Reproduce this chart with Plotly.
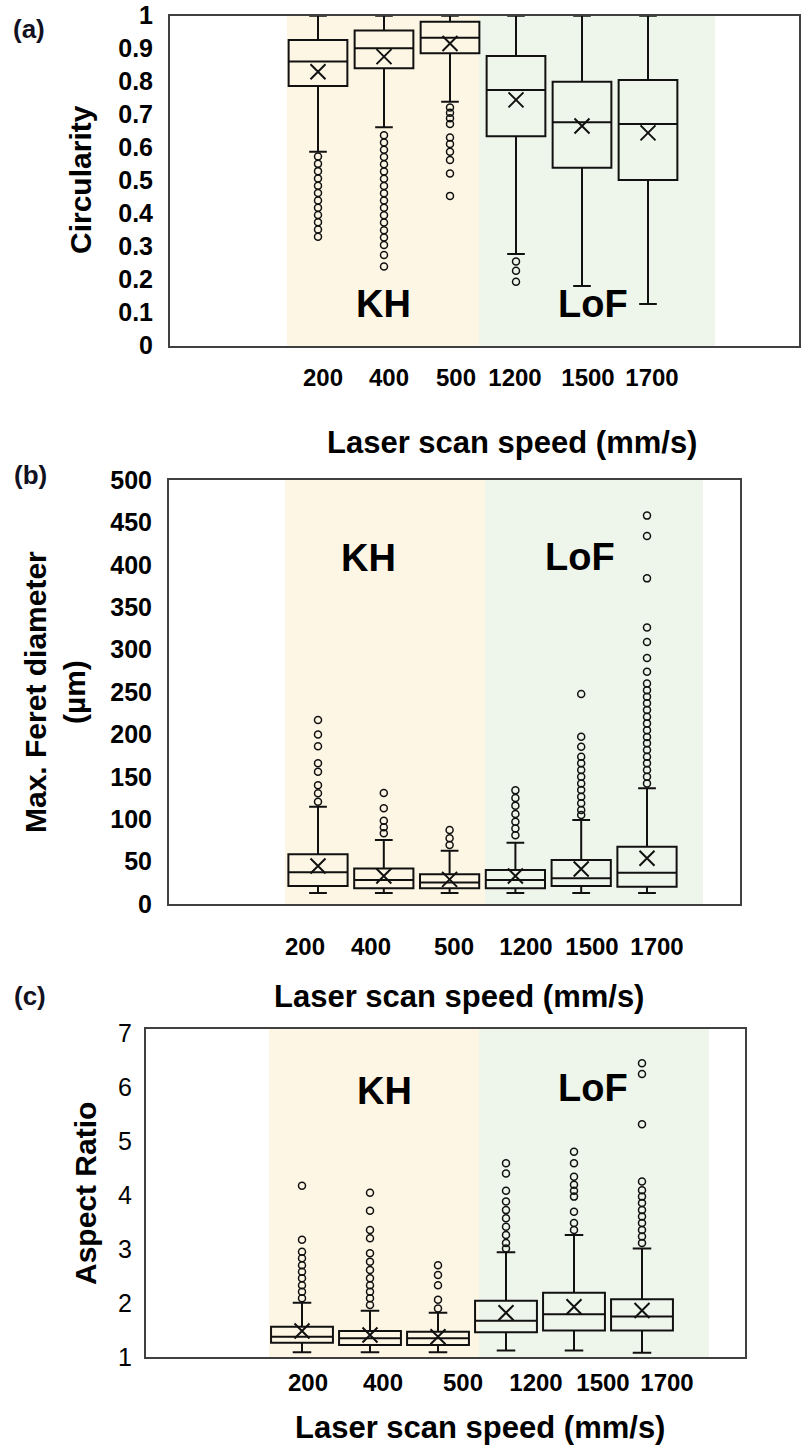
import plotly.graph_objects as go

W, H = 801, 1452

# ---------------- data ----------------
speeds = ["200", "400", "500", "1200", "1500", "1700"]
positions = [1, 2, 3, 4, 5, 6]

# (a) Circularity
circ_lower = [0.588, 0.662, 0.739, 0.278, 0.181, 0.126]
circ_q1 = [0.787, 0.841, 0.886, 0.635, 0.539, 0.502]
circ_median = [0.861, 0.901, 0.933, 0.775, 0.677, 0.672]
circ_q3 = [0.926, 0.955, 0.982, 0.878, 0.800, 0.805]
circ_upper = [1.0, 1.0, 1.0, 1.0, 1.0, 1.0]
circ_mean = [0.830, 0.876, 0.916, 0.745, 0.666, 0.645]
circ_out = [
    [0.573, 0.551, 0.529, 0.507, 0.485, 0.463, 0.44, 0.418, 0.396, 0.374, 0.352, 0.33],
    [0.638, 0.616, 0.594, 0.572, 0.55, 0.528, 0.506, 0.484, 0.462, 0.44, 0.418,
     0.395, 0.373, 0.35, 0.328, 0.305, 0.275, 0.24],
    [0.722, 0.706, 0.689, 0.672, 0.631, 0.611, 0.588, 0.563, 0.522, 0.454],
    [0.255, 0.227, 0.194],
    [],
    [],
]

# (b) Max. Feret diameter (um)
fer_lower = [13, 13, 13, 13, 13, 13]
fer_q1 = [21.2, 18.5, 18.5, 18.5, 21.2, 20.4]
fer_median = [37.3, 28.3, 25.5, 28.3, 30.3, 36.9]
fer_q3 = [58.6, 42.0, 35.0, 40.0, 51.9, 67.6]
fer_upper = [114.8, 75.5, 62.9, 72.3, 99.0, 136.4]
fer_mean = [44.8, 33.0, 29.0, 33.0, 41.3, 53.9]
fer_out = [
    [217, 200, 186, 166, 156, 140, 130.5, 120.7],
    [131, 112.8, 98.3, 90.4, 83.4],
    [87.3, 77.4, 69.6],
    [134, 125, 116, 106, 97, 89, 81],
    [247.6, 197.3, 185.5, 173.7, 166, 158, 150, 142, 134.4, 126.5, 118.7, 110.8, 105],
    [458, 434, 384, 326, 309, 290, 274, 260, 252, 244.5, 236.7, 228.8, 220.9, 213,
     205, 197, 189.5, 181.6, 173.7, 166, 158, 150, 142],
]

# (c) Aspect ratio
ar_lower = [1.087, 1.087, 1.087, 1.12, 1.12, 1.08]
ar_q1 = [1.265, 1.222, 1.222, 1.457, 1.49, 1.49]
ar_median = [1.376, 1.346, 1.346, 1.673, 1.79, 1.75]
ar_q3 = [1.561, 1.48, 1.469, 2.04, 2.19, 2.07]
ar_upper = [2.006, 1.857, 1.82, 2.94, 3.26, 3.01]
ar_mean = [1.48, 1.407, 1.376, 1.82, 1.93, 1.86]
ar_out = [
    [2.087, 2.21, 2.33, 2.457, 2.58, 2.70, 2.83, 2.95, 3.17, 4.17],
    [1.963, 2.087, 2.21, 2.33, 2.457, 2.61, 2.765, 2.92, 3.2, 3.35, 3.71, 4.04],
    [1.90, 2.06, 2.33, 2.52, 2.70],
    [3.01, 3.11, 3.26, 3.41, 3.57, 3.72, 3.88, 4.08, 4.40, 4.59],
    [3.35, 3.48, 3.69, 3.97, 4.08, 4.19, 4.34, 4.59, 4.80],
    [3.11, 3.23, 3.35, 3.48, 3.60, 3.72, 3.85, 3.97, 4.09, 4.25, 5.31, 6.24, 6.44],
]

x_title = "Laser scan speed (mm/s)"
y_titles = ["Circularity", "Max. Feret diameter<br>(µm)", "Aspect Ratio"]
panel_tags = ["(a)", "(b)", "(c)"]
regimes = ["KH", "LoF"]

# ---------------- layout constants (pixels) ----------------
FONT = "Liberation Sans, Arial, sans-serif"
KH_COLOR = "#FEF6E5"
LOF_COLOR = "#EEF5EA"
FRAME = "#404040"
INK = "#111111"

panels = [
    dict(stats=(circ_lower, circ_q1, circ_median, circ_q3, circ_upper, circ_mean, circ_out),
         left=170, right=799, top=15.7, bottom=345.7, c1=318, sp=66, yrange=[0, 1], dtick=0.1,
         label_px=[323, 389, 456, 515, 588, 652], standoff=9, ystand=10,
         kh=(287, 479), lof=(479, 715), boxw=0.89,
         kh_txt=(383, 304), lof_txt=(593, 304),
         xt=(512, 442), yt=(80, 180), tag=(29, 29), ytick_w="bold"),
    dict(stats=(fer_lower, fer_q1, fer_median, fer_q3, fer_upper, fer_mean, fer_out),
         left=169, right=740, top=480, bottom=904, c1=318, sp=65.8, yrange=[0, 500], dtick=50,
         label_px=[305, 371, 454, 526, 592, 657], standoff=20, ystand=10,
         kh=(285, 485), lof=(485, 703), boxw=0.9,
         kh_txt=(368, 558), lof_txt=(580, 557),
         xt=(459, 996), yt=(55, 692), tag=(31, 475), ytick_w="bold"),
    dict(stats=(ar_lower, ar_q1, ar_median, ar_q3, ar_upper, ar_mean, ar_out),
         left=146, right=745, top=1029, bottom=1357, c1=302, sp=68, yrange=[1, 7.074], dtick=1,
         label_px=[308, 383, 463, 536, 603, 667], standoff=3, ystand=7,
         kh=(269, 479), lof=(479, 709), boxw=0.91,
         kh_txt=(384, 1091), lof_txt=(593, 1088),
         xt=(480, 1427), yt=(85, 1194), tag=(30, 996), ytick_w="normal"),
]


def px2x(p, c1, sp):
    return 1 + (p - c1) / sp


fig = go.Figure()
shapes = []
annotations = []
layout_axes = {}

for i, P in enumerate(panels):
    n = "" if i == 0 else str(i + 1)
    xa, ya = "x" + n, "y" + n
    lower, q1, med, q3, upper, mean, outs = P["stats"]
    c1, sp = P["c1"], P["sp"]

    fig.add_trace(go.Box(
        x=positions, q1=q1, median=med, q3=q3, lowerfence=lower, upperfence=upper,
        width=P["boxw"], whiskerwidth=0.3, boxpoints=False,
        fillcolor="rgba(0,0,0,0)", line=dict(color=INK, width=2),
        xaxis=xa, yaxis=ya, showlegend=False, hoverinfo="skip"))

    fig.add_trace(go.Scatter(
        x=positions, y=mean, mode="markers",
        marker=dict(symbol="x-thin-open", size=15, color=INK, line=dict(color=INK, width=2)),
        xaxis=xa, yaxis=ya, showlegend=False, hoverinfo="skip"))

    ox, oy = [], []
    for pos, vals in zip(positions, outs):
        for v in vals:
            ox.append(pos)
            oy.append(v)
    fig.add_trace(go.Scatter(
        x=ox, y=oy, mode="markers",
        marker=dict(symbol="circle-open", size=7, color=INK, line=dict(color=INK, width=1.5)),
        xaxis=xa, yaxis=ya, showlegend=False, hoverinfo="skip"))

    for (a, b), col in ((P["kh"], KH_COLOR), (P["lof"], LOF_COLOR)):
        shapes.append(dict(type="rect", xref=xa, yref=ya + " domain",
                           x0=px2x(a, c1, sp), x1=px2x(b, c1, sp), y0=0, y1=1,
                           fillcolor=col, line=dict(width=0), layer="below"))

    xr = [px2x(P["left"], c1, sp), px2x(P["right"], c1, sp)]
    layout_axes["xaxis" + n] = dict(
        domain=[P["left"] / W, P["right"] / W], range=xr, anchor=ya, automargin=False,
        tickmode="array", tickvals=[px2x(p, c1, sp) for p in P["label_px"]], ticktext=speeds,
        ticks="", ticklabelstandoff=P["standoff"],
        tickfont=dict(family=FONT, size=24, color="black", weight="bold"),
        showline=True, mirror=True, linecolor=FRAME, linewidth=2,
        showgrid=False, zeroline=False, fixedrange=True)
    layout_axes["yaxis" + n] = dict(
        domain=[1 - P["bottom"] / H, 1 - P["top"] / H], range=P["yrange"], anchor=xa,
        automargin=False,
        tick0=0 if i < 2 else 1, dtick=P["dtick"], ticks="", ticklabelstandoff=P["ystand"],
        tickfont=dict(family=FONT, size=25, color="black", weight=P["ytick_w"]),
        showline=True, mirror=True, linecolor=FRAME, linewidth=2,
        showgrid=False, zeroline=False, fixedrange=True)

    for txt, (px, py) in zip(regimes, (P["kh_txt"], P["lof_txt"])):
        annotations.append(dict(text=txt, x=px / W, y=1 - py / H, xref="paper", yref="paper",
                                showarrow=False, xanchor="center", yanchor="middle",
                                font=dict(family=FONT, size=38, color="black", weight="bold")))
    annotations.append(dict(text=x_title, x=P["xt"][0] / W, y=1 - P["xt"][1] / H,
                            xref="paper", yref="paper", showarrow=False,
                            xanchor="center", yanchor="middle",
                            font=dict(family=FONT, size=31, color="black", weight="bold")))
    annotations.append(dict(text=y_titles[i], x=P["yt"][0] / W, y=1 - P["yt"][1] / H,
                            xref="paper", yref="paper", showarrow=False, textangle=-90,
                            xanchor="center", yanchor="middle",
                            font=dict(family=FONT, size=30, color="black", weight="bold")))
    annotations.append(dict(text=panel_tags[i], x=P["tag"][0] / W, y=1 - P["tag"][1] / H,
                            xref="paper", yref="paper", showarrow=False,
                            xanchor="center", yanchor="middle",
                            font=dict(family=FONT, size=26, color="#111122", weight="bold")))

fig.update_layout(
    width=W, height=H, margin=dict(l=0, r=0, t=0, b=0, autoexpand=False),
    paper_bgcolor="white", plot_bgcolor="white",
    shapes=shapes, annotations=annotations, showlegend=False,
    **layout_axes)

fig.write_html("out.html")
